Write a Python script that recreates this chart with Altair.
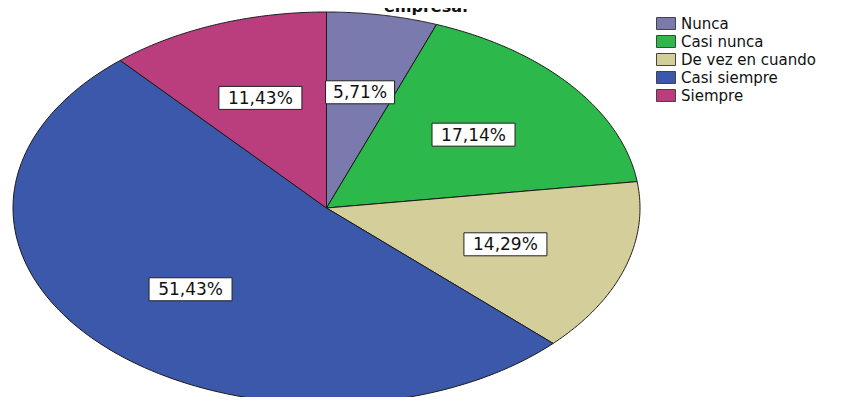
import altair as alt
import pandas as pd

# ---- data ----
categories = ["Nunca", "Casi nunca", "De vez en cuando", "Casi siempre", "Siempre"]
percent = [5.71, 17.14, 14.29, 51.43, 11.43]
labels = ["5,71%", "17,14%", "14,29%", "51,43%", "11,43%"]
colors = ["#7A7AAE", "#2DB84C", "#D4CE9A", "#3C58AB", "#BA3D7D"]
title_text = ["empresa."]

df = pd.DataFrame({"cat": categories, "pct": percent, "label": labels,
                   "idx": list(range(len(categories)))})
title_df = pd.DataFrame({"t": title_text})

# ---- layout (chart coordinates) ----
CX, CY = 318.5, 200.0      # ellipse centre
AX, BY = 313.5, 196.0      # semi-axes (px)
N = 120                    # points along each arc
LABEL_R = 0.6

xscale = alt.Scale(domain=[-1, 1], range=[CX - AX, CX + AX], nice=False, zero=False)
yscale = alt.Scale(domain=[-1, 1], range=[CY + BY, CY - BY], nice=False, zero=False)
color_scale = alt.Scale(domain=categories, range=colors)

base = alt.Chart(df).transform_window(
    cum="sum(pct)", sort=[alt.SortField("idx")], frame=[None, 0]
).transform_joinaggregate(
    total="sum(pct)"
).transform_calculate(
    t0="2*PI*(datum.cum - datum.pct)/datum.total",
    t1="2*PI*datum.cum/datum.total",
)

slices = base.transform_calculate(
    step=f"sequence(-1, {N + 2})"
).transform_flatten(["step"]).transform_calculate(
    ang=f"datum.t0 + (datum.t1 - datum.t0) * clamp(datum.step, 0, {N}) / {N}",
    px=f"(datum.step < 0 || datum.step > {N}) ? 0 : sin(datum.ang)",
    py=f"(datum.step < 0 || datum.step > {N}) ? 0 : cos(datum.ang)",
).mark_line(stroke="#1a1a1a", strokeWidth=1, strokeJoin="round").encode(
    x=alt.X("px:Q", scale=xscale, axis=None),
    y=alt.Y("py:Q", scale=yscale, axis=None),
    fill=alt.Fill("cat:N", scale=color_scale, legend=alt.Legend(
        title=None, orient="none", legendX=648, legendY=5.5,
        symbolType="M-1,-0.63H1V0.63H-1Z", symbolSize=361,
        symbolStrokeColor="#444", symbolStrokeWidth=1, symbolOpacity=1,
        labelFont="DejaVu Sans", labelFontSize=15, labelColor="#111",
        labelOffset=5, labelLimit=300, rowPadding=0, padding=0)),
    detail="cat:N",
    order=alt.Order("step:Q"),
)

lab = base.transform_calculate(
    mid="(datum.t0 + datum.t1) / 2",
    lx=f"{LABEL_R} * sin(datum.mid)",
    ly=f"{LABEL_R} * cos(datum.mid)",
    hw=f"(14 * length(datum.label) - 1) / 2 / {AX}",
    hh=f"11.5 / {BY}",
).transform_calculate(
    bx1="datum.lx - datum.hw", bx2="datum.lx + datum.hw",
    by1="datum.ly - datum.hh", by2="datum.ly + datum.hh",
)

boxes = lab.mark_rect(fill="white", stroke="#222", strokeWidth=1).encode(
    x=alt.X("bx1:Q", scale=xscale, axis=None), x2="bx2:Q",
    y=alt.Y("by1:Q", scale=yscale, axis=None), y2="by2:Q",
)

texts = lab.mark_text(font="DejaVu Sans", fontSize=17, color="#111", baseline="middle", dy=1).encode(
    x=alt.X("lx:Q", scale=xscale, axis=None),
    y=alt.Y("ly:Q", scale=yscale, axis=None),
    text="label:N",
)

title = alt.Chart(title_df).mark_text(font="DejaVu Sans", fontSize=16, fontWeight="bold",
                                      color="#111", baseline="alphabetic").encode(
    x=alt.value(418), y=alt.value(4), text="t:N")

chart = alt.layer(slices, boxes, texts, title).properties(
    width=840, height=389, padding=0,
    autosize=alt.AutoSizeParams(type="none"),
).configure_view(stroke=None)

chart.save("out.html", embed_options={"renderer": "svg", "actions": False})
